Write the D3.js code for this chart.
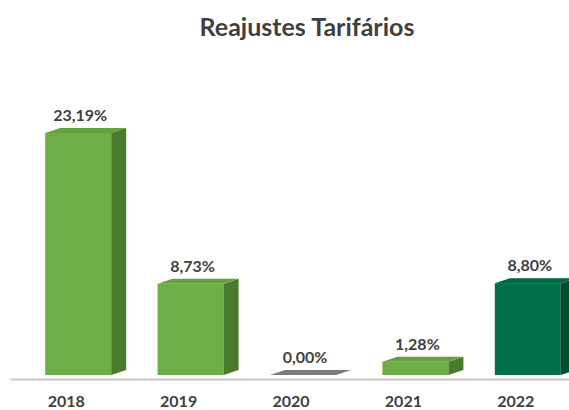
<!doctype html>
<html>
<head>
<script src="https://d3js.org/d3.v7.min.js"></script>
<style>
body { margin: 0; background: #fff; }
svg { display: block; font-family: Lato, "Noto Sans", sans-serif; }
.title { font-size: 25px; font-weight: bold; fill: #3f3f3f; }
.val { font-size: 16px; font-weight: bold; fill: #404040; }
.xaxis text { font-size: 16px; font-weight: bold; fill: #404040; font-family: Lato, "Noto Sans", sans-serif; }
.xaxis path { stroke: #c8c8c8; stroke-width: 2; }
</style>
</head>
<body>
<script>
// data
var years = ["2018", "2019", "2020", "2021", "2022"];
var reajustes = [23.19, 8.73, 0.00, 1.28, 8.80];
var valueLabels = ["23,19%", "8,73%", "0,00%", "1,28%", "8,80%"];
var highlight = ["2022"];

var width = 569, height = 410;
var svg = d3.select("body").append("svg").attr("width", width).attr("height", height);

var x = d3.scaleBand().domain(years).range([10, 572]).padding(0);
var y = d3.scaleLinear().domain([0, 25]).range([375, 114]);

var frontW = 66, frontOff = -21, depthX = 15, depthY = 5;

svg.append("text").attr("class", "title")
  .attr("x", 307).attr("y", 36)
  .attr("text-anchor", "middle")
  .text("Reajustes Tarifários");

// axis
var xaxis = d3.axisBottom(x).tickSize(0).tickSizeOuter(0).tickPadding(17);
svg.append("g").attr("class", "xaxis")
  .attr("transform", "translate(0,379)")
  .call(xaxis);

var data = years.map(function(yr, i) {
  return { year: yr, v: reajustes[i], label: valueLabels[i] };
});

function colors(d) {
  if (d.v === 0) return { front: "#808080", side: "#808080", top: "#7a7a7a" };
  if (highlight.indexOf(d.year) >= 0) return { front: "#00704a", side: "#004d30", top: "#006642" };
  return { front: "#6fad47", side: "#4a7a2c", top: "#64a03e" };
}

var bars = svg.selectAll(".bar").data(data).enter().append("g").attr("class", "bar");

bars.each(function(d) {
  var g = d3.select(this);
  var c = colors(d);
  var x0 = x(d.year) + x.bandwidth() / 2 + frontOff;
  var x1 = x0 + frontW;
  var yb = y(0), yt = y(d.v);
  if (d.v > 0) {
    // front
    g.append("rect").attr("x", x0).attr("y", yt).attr("width", frontW).attr("height", yb - yt).attr("fill", c.front);
    // side
    g.append("path").attr("fill", c.side)
      .attr("d", "M" + x1 + "," + yt + "L" + (x1 + depthX) + "," + (yt - depthY) +
        "L" + (x1 + depthX) + "," + (yb - depthY) + "L" + x1 + "," + yb + "Z");
  }
  // top
  g.append("path").attr("fill", c.top)
    .attr("d", "M" + x0 + "," + yt + "L" + (x0 + depthX) + "," + (yt - depthY) +
      "L" + (x1 + depthX) + "," + (yt - depthY) + "L" + x1 + "," + yt + "Z");
});

svg.selectAll(".val").data(data).enter().append("text")
  .attr("class", "val")
  .attr("text-anchor", "middle")
  .attr("x", function(d) { return x(d.year) + x.bandwidth() / 2 + frontOff + frontW / 2 + 2; })
  .attr("y", function(d) { return y(d.v) - 12; })
  .text(function(d) { return d.label; });
</script>
</body>
</html>
